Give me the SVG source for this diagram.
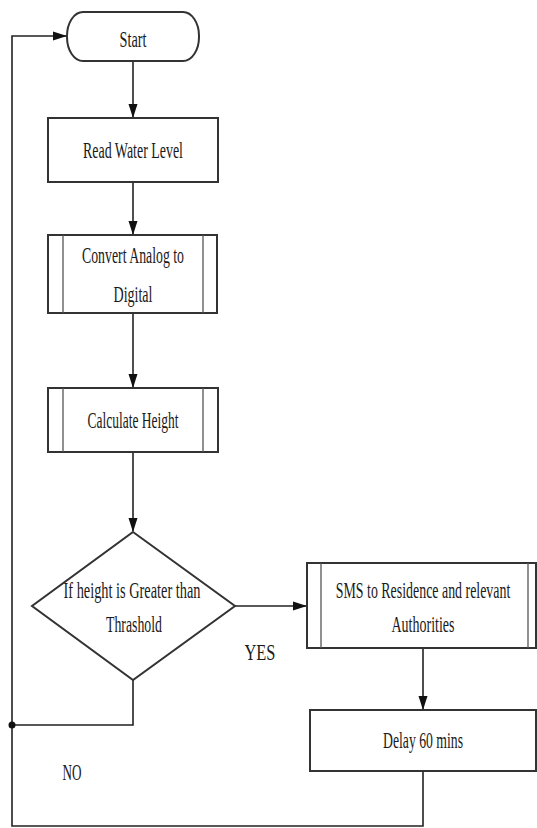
<svg xmlns="http://www.w3.org/2000/svg" width="537" height="828" viewBox="0 0 537 828">
<style>
.shape{fill:#fff;stroke:#333;stroke-width:2}
.inner{fill:none;stroke:#555;stroke-width:1.3}
.conn{fill:none;stroke:#222;stroke-width:1.6}
text{font-family:"Liberation Serif","Times New Roman",serif;font-size:23px;fill:#1a1a1a;text-anchor:middle}
</style>
<defs>
<marker id="arr" markerWidth="14" markerHeight="10" refX="13" refY="5" orient="auto" markerUnits="userSpaceOnUse">
<path d="M0,0.5 L14,5 L0,9.5 Z" fill="#111"/>
</marker>
</defs>
<rect width="537" height="828" fill="#fff"/>
<g id="connectors">
<line class="conn" x1="133" y1="61" x2="133" y2="117" marker-end="url(#arr)"/>
<line class="conn" x1="133" y1="182" x2="133" y2="234" marker-end="url(#arr)"/>
<line class="conn" x1="133" y1="313" x2="133" y2="387" marker-end="url(#arr)"/>
<line class="conn" x1="133" y1="452" x2="133" y2="531" marker-end="url(#arr)"/>
<line class="conn" x1="235" y1="606" x2="306" y2="606" marker-end="url(#arr)"/>
<line class="conn" x1="423" y1="648" x2="423" y2="709" marker-end="url(#arr)"/>
<polyline class="conn" points="423,771 423,826 12,826 12,36 66,36" marker-end="url(#arr)"/>
<polyline class="conn" points="133,680 133,725 12,725"/>
<circle cx="12" cy="725" r="3.5" fill="#111"/>
</g>
<g id="start">
<rect class="shape" x="67" y="12" width="132" height="49" rx="16" ry="24"/>
<text x="133" y="47" textLength="27" lengthAdjust="spacingAndGlyphs">Start</text>
</g>
<g id="read">
<rect class="shape" x="48" y="118" width="170" height="64"/>
<text x="133" y="158" textLength="100" lengthAdjust="spacingAndGlyphs">Read Water Level</text>
</g>
<g id="convert">
<rect class="shape" x="48" y="235" width="169" height="78"/>
<line class="inner" x1="63" y1="235" x2="63" y2="313"/>
<line class="inner" x1="203" y1="235" x2="203" y2="313"/>
<text x="133" y="263" textLength="102" lengthAdjust="spacingAndGlyphs">Convert Analog to</text>
<text x="133" y="302" textLength="39" lengthAdjust="spacingAndGlyphs">Digital</text>
</g>
<g id="calculate">
<rect class="shape" x="48" y="388" width="170" height="64"/>
<line class="inner" x1="63" y1="388" x2="63" y2="452"/>
<line class="inner" x1="203" y1="388" x2="203" y2="452"/>
<text x="133" y="428" textLength="91" lengthAdjust="spacingAndGlyphs">Calculate Height</text>
</g>
<g id="decision">
<polygon class="shape" points="133,532 235,606 133,680 32,606"/>
<text x="132" y="598" textLength="137" lengthAdjust="spacingAndGlyphs">If height is Greater than</text>
<text x="134" y="632" textLength="56" lengthAdjust="spacingAndGlyphs">Thrashold</text>
</g>
<g id="sms">
<rect class="shape" x="307" y="563" width="229" height="85"/>
<line class="inner" x1="321" y1="563" x2="321" y2="648"/>
<line class="inner" x1="528" y1="563" x2="528" y2="648"/>
<text transform="translate(423,598) scale(0.6,1)" x="0" y="0" textLength="291" lengthAdjust="spacingAndGlyphs">SMS to Residence and relevant</text>
<text x="423" y="632" textLength="63" lengthAdjust="spacingAndGlyphs">Authorities</text>
</g>
<g id="delay">
<rect class="shape" x="310" y="710" width="226" height="61"/>
<text x="423" y="748" textLength="80" lengthAdjust="spacingAndGlyphs">Delay 60 mins</text>
</g>
<g id="labels">
<text x="260" y="660" textLength="31" lengthAdjust="spacingAndGlyphs">YES</text>
<text x="72" y="780" textLength="19" lengthAdjust="spacingAndGlyphs">NO</text>
</g>
</svg>
